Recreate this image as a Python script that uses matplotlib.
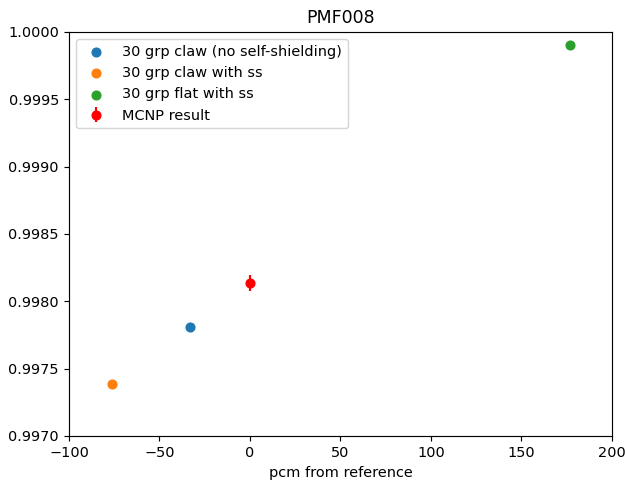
import matplotlib
matplotlib.use("Agg")
import matplotlib.pyplot as plt

labels = ["30 grp claw (no self-shielding)", "30 grp claw with ss", "30 grp flat with ss"]
pcm = [-33, -76, 177]
keff = [0.99781, 0.997385, 0.99990]

mcnp_pcm = 0
mcnp_keff = 0.998135
mcnp_err = 0.00006

fig, ax = plt.subplots(figsize=(625 / 104, 481 / 104), dpi=104)
fig.subplots_adjust(left=0.1104, right=0.979, top=0.9335, bottom=0.0936)

for x, y, lab in zip(pcm, keff, labels):
    ax.scatter(x, y, label=lab)

ax.errorbar(mcnp_pcm, mcnp_keff, yerr=mcnp_err, fmt="o", color="red", label="MCNP result")

ax.set_xlim(-100, 200)
ax.set_ylim(0.997, 1.0)
ax.set_title("PMF008")
ax.set_xlabel("pcm from reference")
ax.legend(loc="upper left")

plt.savefig("out.png", dpi=104)
